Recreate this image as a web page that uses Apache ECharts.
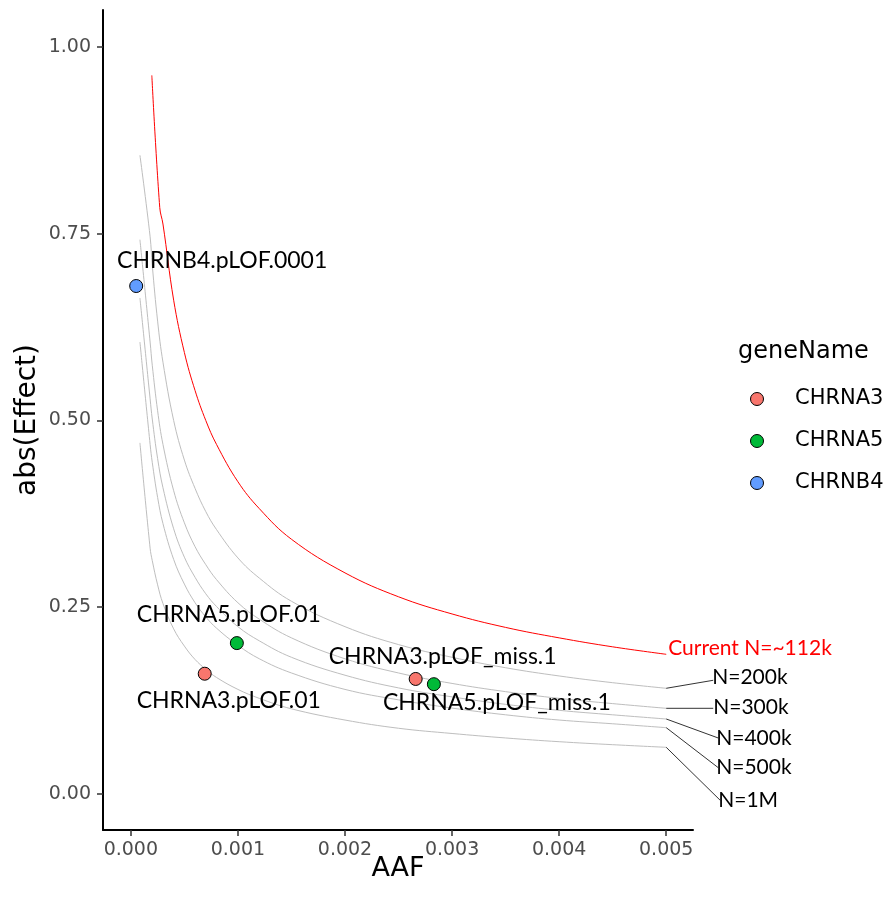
<!DOCTYPE html>
<html>
<head>
<meta charset="utf-8">
<script src="https://cdn.jsdelivr.net/npm/echarts@6/dist/echarts.min.js"></script>
<style>
  html, body { margin: 0; padding: 0; background: #fff; }
  #chart { width: 889px; height: 899px; }
</style>
</head>
<body>
<div id="chart"></div>
<script>
// ---- data ----
const geneNames = ['CHRNA3', 'CHRNA5', 'CHRNB4'];
const geneColors = ['#F8766D', '#00BA38', '#619CFF'];

const pointLabels = ['CHRNB4.pLOF.0001', 'CHRNA5.pLOF.01', 'CHRNA3.pLOF.01', 'CHRNA3.pLOF_miss.1', 'CHRNA5.pLOF_miss.1'];
const pointGenes = ['CHRNB4', 'CHRNA5', 'CHRNA3', 'CHRNA3', 'CHRNA5'];
const pointAAF = [0.00005, 0.00099, 0.00069, 0.00266, 0.00283];
const pointEffect = [0.680, 0.202, 0.161, 0.154, 0.147];

// detectable effect curves for different sample sizes
const curveAAF = [0.000085, 0.00018, 0.0002, 0.00025, 0.0003, 0.0004, 0.0005, 0.0006, 0.0007, 0.0008, 0.001, 0.0012, 0.0015, 0.002, 0.0025, 0.003, 0.0035, 0.004, 0.0045, 0.005];
const effect200k = [0.855, 0.746, 0.708, 0.633, 0.578, 0.500, 0.447, 0.409, 0.378, 0.354, 0.316, 0.289, 0.258, 0.224, 0.200, 0.183, 0.169, 0.158, 0.149, 0.1415];
const effect300k = [0.742, 0.605, 0.574, 0.513, 0.468, 0.406, 0.363, 0.331, 0.307, 0.287, 0.256, 0.234, 0.209, 0.181, 0.162, 0.148, 0.137, 0.128, 0.121, 0.1147];
const effect400k = [0.664, 0.529, 0.502, 0.449, 0.410, 0.355, 0.317, 0.290, 0.268, 0.251, 0.224, 0.205, 0.183, 0.159, 0.142, 0.130, 0.120, 0.112, 0.106, 0.1004];
const effect500k = [0.605, 0.468, 0.444, 0.397, 0.362, 0.314, 0.281, 0.256, 0.237, 0.222, 0.199, 0.181, 0.162, 0.140, 0.126, 0.115, 0.106, 0.099, 0.094, 0.0888];
const effect1M = [0.470, 0.329, 0.3125, 0.280, 0.255, 0.221, 0.198, 0.180, 0.167, 0.156, 0.140, 0.128, 0.114, 0.099, 0.088, 0.081, 0.075, 0.070, 0.066, 0.0625];

const currentAAF = [0.000196, 0.00027, 0.0003, 0.0004, 0.0005, 0.0006, 0.0007, 0.0008, 0.001, 0.0012, 0.0015, 0.002, 0.0025, 0.003, 0.0035, 0.004, 0.0045, 0.005];
const effectCurrent = [0.962, 0.785, 0.763, 0.661, 0.591, 0.540, 0.500, 0.468, 0.418, 0.382, 0.341, 0.296, 0.264, 0.241, 0.223, 0.209, 0.197, 0.187];

const curveNames = ['Current N=~112k', 'N=200k', 'N=300k', 'N=400k', 'N=500k', 'N=1M'];
const curveX = [currentAAF, curveAAF, curveAAF, curveAAF, curveAAF, curveAAF];
const curveY = [effectCurrent, effect200k, effect300k, effect400k, effect500k, effect1M];

const xTicks = [0, 0.001, 0.002, 0.003, 0.004, 0.005];
const yTicks = [0, 0.25, 0.5, 0.75, 1.0];

// ---- layout of annotation text (pixel offsets) ----
const pointLabelOffset = {
  'CHRNB4.pLOF.0001': [86, -25],
  'CHRNA5.pLOF.01': [-8, -29],
  'CHRNA3.pLOF.01': [24, 27],
  'CHRNA3.pLOF_miss.1': [27, -22],
  'CHRNA5.pLOF_miss.1': [63, 18]
};
// text anchor (left-middle) and leader end, relative to the curve's last point
const curveLabelLayout = {
  'Current N=~112k': { text: [2, -6], line: null, color: '#FF0000' },
  'N=200k': { text: [46, -11], line: [47, -8], color: '#000' },
  'N=300k': { text: [47, -1], line: [47, 0], color: '#000' },
  'N=400k': { text: [50, 19], line: [52, 19], color: '#000' },
  'N=500k': { text: [50, 40], line: [52, 40], color: '#000' },
  'N=1M': { text: [52, 53], line: [54, 53], color: '#000' }
};

const axisFont = 'DejaVu Sans';
const chart = echarts.init(document.getElementById('chart'), null, { renderer: 'canvas' });

const lineSeries = curveNames.map((name, i) => ({
  name: name,
  type: 'line',
  data: curveX[i].map((x, j) => [x, curveY[i][j]]),
  showSymbol: false,
  symbol: 'none',
  smooth: 0.4,
  clip: false,
  silent: true,
  lineStyle: { color: i === 0 ? '#FF0000' : '#BEBEBE', width: 1 },
  z: 2
}));

const scatterSeries = geneNames.map((g, gi) => ({
  name: g,
  type: 'scatter',
  symbol: 'circle',
  symbolSize: 13,
  itemStyle: { color: geneColors[gi], borderColor: '#000', borderWidth: 1, opacity: 1 },
  data: pointLabels
    .map((lab, k) => ({ lab, k }))
    .filter(o => pointGenes[o.k] === g)
    .map(o => ({ value: [pointAAF[o.k], pointEffect[o.k]], name: o.lab })),
  label: {
    show: true,
    position: 'inside',
    formatter: p => p.name,
    fontFamily: 'Lato',
    fontSize: 23,
    color: '#000',
    align: 'center',
    verticalAlign: 'middle'
  },
  labelLayout: p => {
    const off = pointLabelOffset[p.text] || [0, 0];
    return { dx: off[0], dy: off[1], hideOverlap: false };
  },
  z: 5
}));

chart.setOption({
  animation: false,
  backgroundColor: '#fff',
  grid: { left: 103, right: 196, top: 10, bottom: 69, containLabel: false },
  title: {
    text: 'geneName',
    left: 733,
    top: 335,
    textStyle: { fontFamily: axisFont, fontSize: 24, fontWeight: 'normal', color: '#000' }
  },
  legend: {
    orient: 'vertical',
    left: 745,
    top: 383,
    data: geneNames.map((g, gi) => ({
      name: g,
      icon: 'circle',
      itemStyle: { color: geneColors[gi], borderColor: '#000', borderWidth: 1 }
    })),
    itemWidth: 66,
    itemHeight: 13,
    itemGap: 20,
    selectedMode: false,
    textStyle: { fontFamily: axisFont, fontSize: 21, color: '#000', lineHeight: 22 }
  },
  xAxis: {
    type: 'value',
    min: -0.00026,
    max: 0.00525,
    name: 'AAF',
    nameLocation: 'middle',
    nameGap: 25,
    nameMoveOverlap: false,
    nameTextStyle: { fontFamily: axisFont, fontSize: 27, color: '#000' },
    axisLine: { show: true, onZero: false, lineStyle: { color: '#000', width: 2 } },
    axisTick: { show: true, length: 6, customValues: xTicks, lineStyle: { color: '#333', width: 1.5 } },
    axisLabel: {
      customValues: xTicks,
      formatter: v => v.toFixed(3),
      fontFamily: axisFont, fontSize: 19, color: '#4D4D4D', margin: 11
    },
    splitLine: { show: false }
  },
  yAxis: {
    type: 'value',
    min: -0.0482,
    max: 1.0495,
    name: 'abs(Effect)',
    nameLocation: 'middle',
    nameGap: 61,
    nameMoveOverlap: false,
    nameRotate: 90,
    nameTextStyle: { fontFamily: axisFont, fontSize: 28, color: '#000' },
    axisLine: { show: true, onZero: false, lineStyle: { color: '#000', width: 2 } },
    axisTick: { show: true, length: 6, customValues: yTicks, lineStyle: { color: '#333', width: 1.5 } },
    axisLabel: {
      customValues: yTicks,
      formatter: v => v.toFixed(2),
      fontFamily: axisFont, fontSize: 19, color: '#4D4D4D', margin: 12
    },
    splitLine: { show: false }
  },
  series: lineSeries.concat(scatterSeries)
});

// curve labels with leader lines, anchored at each curve's last point
const graphics = [];
curveNames.forEach((name, i) => {
  const xs = curveX[i], ys = curveY[i];
  const end = chart.convertToPixel({ xAxisIndex: 0, yAxisIndex: 0 }, [xs[xs.length - 1], ys[ys.length - 1]]);
  const lay = curveLabelLayout[name];
  if (lay.line) {
    graphics.push({
      type: 'line',
      shape: { x1: end[0], y1: end[1], x2: end[0] + lay.line[0], y2: end[1] + lay.line[1] },
      style: { stroke: '#333', lineWidth: 1 },
      z: 3
    });
  }
  graphics.push({
    type: 'text',
    x: end[0] + lay.text[0],
    y: end[1] + lay.text[1],
    style: {
      text: name,
      fill: lay.color,
      font: '21px Lato',
      align: 'left',
      verticalAlign: 'middle'
    },
    z: 4
  });
});
chart.setOption({ graphic: graphics });
</script>
</body>
</html>
